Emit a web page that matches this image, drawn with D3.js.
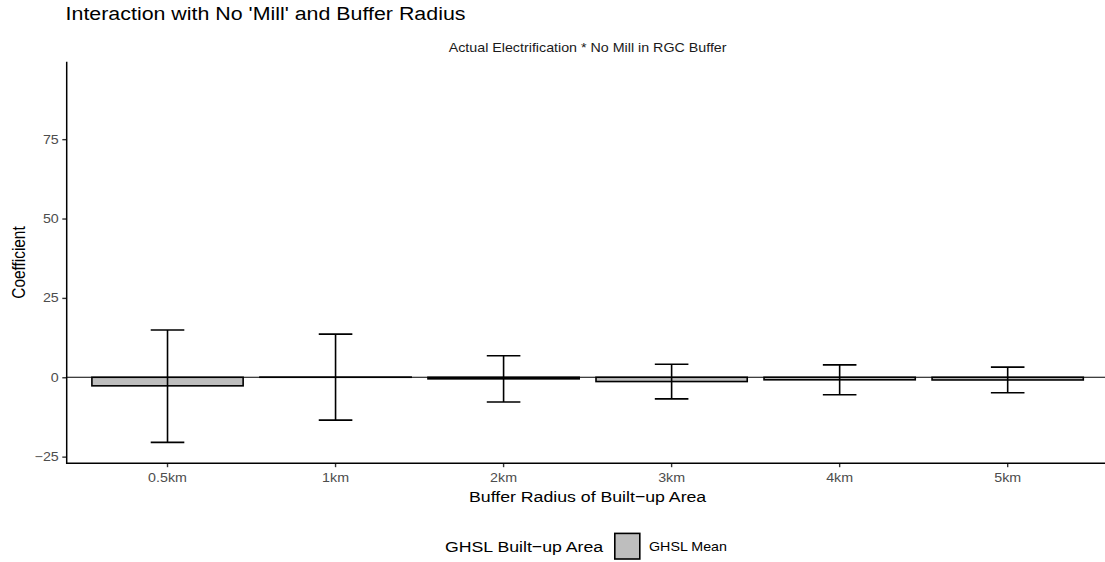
<!DOCTYPE html>
<html>
<head>
<meta charset="utf-8">
<script src="https://cdn.jsdelivr.net/npm/d3@7"></script>
<style>
  html, body { margin: 0; padding: 0; background: #ffffff; }
  svg { display: block; }
  text { font-family: "Liberation Sans", Arial, Helvetica, sans-serif; }
</style>
</head>
<body>
<svg id="chart" width="1105" height="562"></svg>
<script>
// Buffer radii and the regression estimates for each
const radii = ["0.5km", "1km", "2km", "3km", "4km", "5km"];
const coefficient = [-2.7, 0.05, -0.5, -1.35, -0.8, -0.85];
const ciUpper = [14.9, 13.6, 6.8, 4.1, 3.9, 3.2];
const ciLower = [-20.5, -13.5, -7.8, -6.8, -5.5, -4.9];
const yTicks = [-25, 0, 25, 50, 75];
const legendLabels = ["GHSL Mean"];

const W = 1105, H = 562;
const SX = 1.15;              // horizontal text aspect of the output
const panel = { left: 66.7, right: 1108.5, top: 61.7, bottom: 463.3 };

const svg = d3.select("#chart");

// Text with a horizontal stretch applied around its anchor point
function label(parent, x, y, str, size, opts = {}) {
  return parent.append("text")
    .attr("transform", `translate(${x},${y}) scale(${SX},1)` + (opts.rotate ? ` rotate(${opts.rotate})` : ""))
    .attr("text-anchor", opts.anchor || "start")
    .attr("font-size", size)
    .attr("fill", opts.fill || "#000000")
    .text(str);
}

const x = d3.scaleBand()
  .domain(radii)
  .range([panel.left, panel.right])
  .paddingInner(0)
  .paddingOuter(0.1);

const y = d3.scaleLinear()
  .domain([-27.1, 99.4])
  .range([panel.bottom, panel.top]);

const step = x.step();
const center = d => x(d) + x.bandwidth() / 2;

const rows = radii.map((r, i) => ({
  radius: r, est: coefficient[i], hi: ciUpper[i], lo: ciLower[i]
}));

// Reference line at zero
svg.append("line")
  .attr("x1", panel.left).attr("x2", panel.right)
  .attr("y1", y(0)).attr("y2", y(0))
  .attr("stroke", "#000").attr("stroke-width", 1);

// Bars
svg.append("g").selectAll("rect")
  .data(rows)
  .join("rect")
  .attr("x", d => center(d.radius) - 0.45 * step)
  .attr("width", 0.9 * step)
  .attr("y", d => Math.min(y(d.est), y(0)))
  .attr("height", d => Math.abs(y(d.est) - y(0)))
  .attr("fill", "#BEBEBE")
  .attr("stroke", "#000")
  .attr("stroke-width", 1.6);

// Error bars
const eb = svg.append("g").attr("stroke", "#000").attr("stroke-width", 1.6).attr("fill", "none");
eb.selectAll("path")
  .data(rows)
  .join("path")
  .attr("d", d => {
    const c = center(d.radius), hw = 0.1 * step;
    return `M${c - hw},${y(d.hi)}H${c + hw}M${c},${y(d.hi)}V${y(d.lo)}M${c - hw},${y(d.lo)}H${c + hw}`;
  });

// Y axis
const yAxis = svg.append("g")
  .attr("transform", `translate(${panel.left},0)`)
  .call(d3.axisLeft(y).tickValues(yTicks).tickSize(4.4).tickFormat(d => d < 0 ? "\u2212" + Math.abs(d) : d));
yAxis.select(".domain").remove();
yAxis.selectAll(".tick line").attr("stroke", "#333333").attr("stroke-width", 1.4);
yAxis.selectAll(".tick text").remove();
yAxis.append("line")
  .attr("x1", 0).attr("x2", 0)
  .attr("y1", panel.top).attr("y2", panel.bottom + 0.7)
  .attr("stroke", "#000").attr("stroke-width", 1.5);
yTicks.forEach(t => {
  label(svg, 58.8, y(t) + 4.4, t < 0 ? "\u2212" + Math.abs(t) : String(t), 12.4,
    { anchor: "end", fill: "#4D4D4D" });
});

// X axis
const xAxis = svg.append("g")
  .attr("transform", `translate(0,${panel.bottom})`)
  .call(d3.axisBottom(x).tickSize(3.9));
xAxis.select(".domain").remove();
xAxis.selectAll(".tick line").attr("stroke", "#333333").attr("stroke-width", 1.4);
xAxis.selectAll(".tick text").remove();
xAxis.append("line")
  .attr("x1", panel.left - 0.7).attr("x2", panel.right)
  .attr("y1", 0).attr("y2", 0)
  .attr("stroke", "#000").attr("stroke-width", 1.5);
radii.forEach(r => {
  label(svg, center(r), 481.7, r, 12.4, { anchor: "middle", fill: "#4D4D4D" });
});

// Titles
label(svg, 65.6, 20, "Interaction with No 'Mill' and Buffer Radius", 18.6);
label(svg, (panel.left + panel.right) / 2, 52.3, "Actual Electrification * No Mill in RGC Buffer", 12.4, { anchor: "middle", fill: "#1A1A1A" });
label(svg, (panel.left + panel.right) / 2, 501.7, "Buffer Radius of Built\u2212up Area", 15.4, { anchor: "middle" });
label(svg, 24.8, (panel.top + panel.bottom) / 2, "Coefficient", 15.4, { anchor: "middle", rotate: -90 });

// Legend
const legend = svg.append("g");
label(legend, 445, 551.7, "GHSL Built\u2212up Area", 15.4);
legend.append("rect")
  .attr("x", 614.8).attr("y", 533.4)
  .attr("width", 25).attr("height", 25.6)
  .attr("fill", "#BEBEBE").attr("stroke", "#000").attr("stroke-width", 1.6);
label(legend, 649, 551.2, legendLabels[0], 12.4);
</script>
</body>
</html>
